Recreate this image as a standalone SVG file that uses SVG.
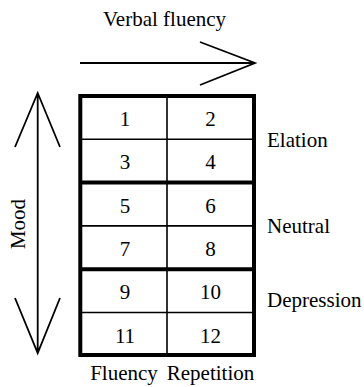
<svg xmlns="http://www.w3.org/2000/svg" width="364" height="387" viewBox="0 0 364 387">
<style>
text{font-family:"Liberation Serif","Times New Roman",serif;font-size:21px;fill:#000}
.n{text-anchor:middle}
.thin{stroke:#000;stroke-width:1.6;fill:none}
.thick{stroke:#000;stroke-width:4;fill:none}
.arr{stroke:#000;stroke-width:1.8;fill:none}
</style>
<rect width="364" height="387" fill="#fff"/>
<g id="connectors">
<path class="arr" d="M80,63 H255 M200,42 L255,63 L200,85"/>
<path class="arr" d="M37.7,93 V353 M15,147 L37.7,93 L60,147 M15,298 L37.7,353 L60,298"/>
</g>
<g id="grid">
<path class="thin" d="M80.3,139.3 H254 M80.3,225.9 H254 M80.3,312.5 H254 M167,96 V355"/>
<path class="thick" d="M80.3,182.6 H254 M80.3,269.2 H254"/>
<rect class="thick" x="80.3" y="96" width="173.7" height="259"/>
</g>
<g id="cells">
<text class="n" x="125" y="126">1</text><text class="n" x="210.5" y="126">2</text>
<text class="n" x="125" y="169.3">3</text><text class="n" x="210.5" y="169.3">4</text>
<text class="n" x="125" y="212.6">5</text><text class="n" x="210.5" y="212.6">6</text>
<text class="n" x="125" y="255.9">7</text><text class="n" x="210.5" y="255.9">8</text>
<text class="n" x="125" y="299.2">9</text><text class="n" x="210.5" y="299.2">10</text>
<text class="n" x="125" y="342.5">11</text><text class="n" x="210.5" y="342.5">12</text>
</g>
<g id="labels">
<text x="103" y="26">Verbal fluency</text>
<text x="267" y="147">Elation</text>
<text x="267" y="233">Neutral</text>
<text x="267" y="307">Depression</text>
<text class="n" x="124" y="380">Fluency</text>
<text class="n" x="210.5" y="380">Repetition</text>
<text class="n" transform="translate(25,224) rotate(-90)">Mood</text>
</g>
</svg>
